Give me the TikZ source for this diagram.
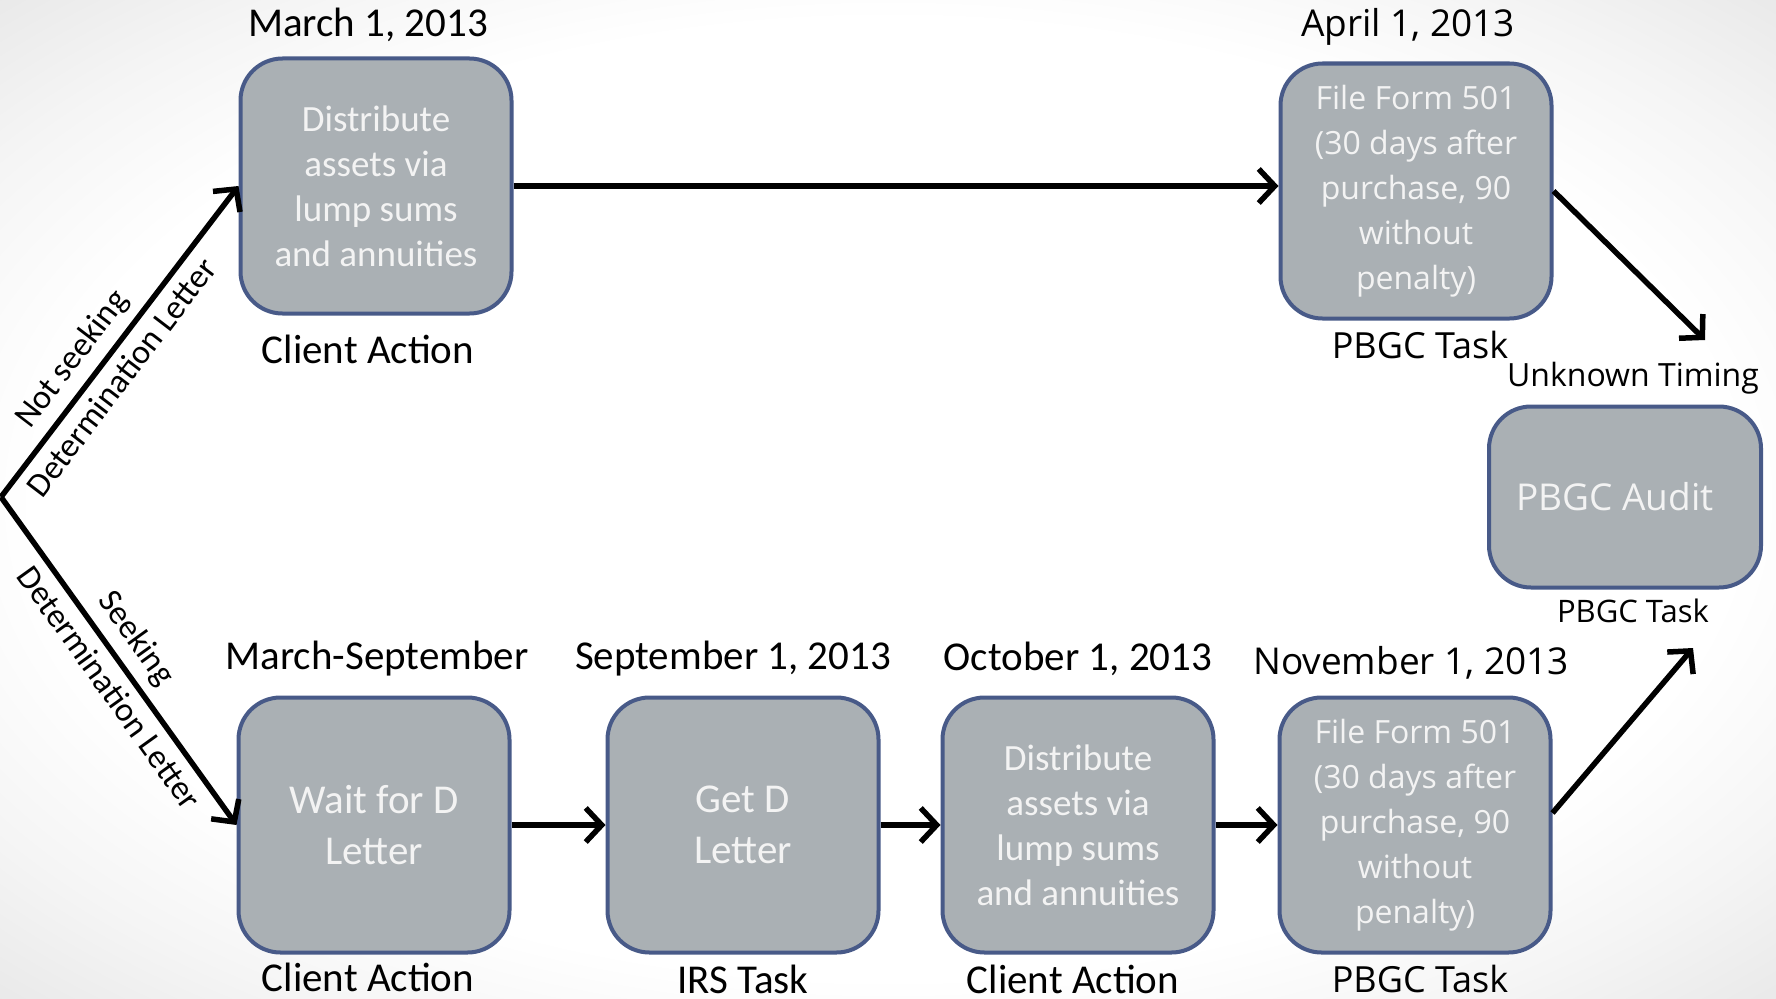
\documentclass[tikz,border=0pt]{standalone}
\usepackage{fontspec}
\setmainfont{Carlito}
\newfontfamily\osans{Open Sans}
\usetikzlibrary{arrows.meta}
\definecolor{boxfill}{HTML}{AAB0B4}
\definecolor{boxline}{HTML}{485A88}
\definecolor{boxtext}{HTML}{F3F3F3}
\pgfdeclareradialshading{bgshade}{\pgfpoint{0bp}{0bp}}{color(0bp)=(white); color(24bp)=(white); color(30bp)=(black!4); color(36bp)=(black!9); color(50bp)=(black!9)}
\begin{document}
\begin{tikzpicture}[x=1pt,y=-1pt,
  stage/.style={draw=boxline, fill=boxfill, line width=4pt, rounded corners=42pt,
    minimum width=271pt, minimum height=255pt, align=center, text=boxtext, inner sep=0pt},
  cal/.style={font=\fontsize{41}{49}\selectfont, inner sep=0pt},
  ops/.style={font=\osans\fontsize{37}{44}\selectfont, inner sep=0pt},
  lbl/.style={font=\fontsize{34}{40}\selectfont, inner sep=0pt},
  flow/.style={line width=5.5pt, -{Straight Barb[length=16pt,width=34pt,line width=5.5pt]}},
]
\useasboundingbox (0,0) rectangle (1776,998);
\shade[shading=bgshade] (0,0) rectangle (1776,998);

% boxes
\node[stage, font=\fontsize{37}{45}\selectfont] (d1) at (376,186)
  {Distribute\\assets via\\lump sums\\and annuities};
\node[stage, font=\osans\fontsize{32}{45}\selectfont] (f1) at (1416,191)
  {File Form 501\\(30 days after\\purchase, 90\\without\\penalty)};
\node[stage, minimum width=272pt, minimum height=181pt] (au) at (1625,497) {};
\node[ops, text=boxtext] (aut) at (1615,497) {PBGC Audit};
\node[stage, font=\fontsize{41}{51}\selectfont] (w) at (374,825) {Wait for D\\Letter};
\node[stage, font=\fontsize{41}{51}\selectfont] (g) at (743,825) {Get D\\Letter};
\node[stage, font=\fontsize{37}{45}\selectfont] (d2) at (1078,825)
  {Distribute\\assets via\\lump sums\\and annuities};
\node[stage, font=\osans\fontsize{32}{45}\selectfont] (f2) at (1415,825)
  {File Form 501\\(30 days after\\purchase, 90\\without\\penalty)};

% labels
\node[cal] (t1) at (368,25) {March 1, 2013};
\node[cal] (c1) at (368,349) {Client Action};
\node[ops] (t2) at (1408,27) {April 1, 2013};
\node[ops, font=\osans\fontsize{36}{44}\selectfont] (p1) at (1420,345) {PBGC Task};
\node[ops, font=\osans\fontsize{32}{40}\selectfont] (ut) at (1633,378) {Unknown Timing};
\node[ops, font=\osans\fontsize{31}{40}\selectfont] (p2) at (1633,611) {PBGC Task};
\node[cal] (t3) at (377,659) {March-September};
\node[cal] (t4) at (733,659) {September 1, 2013};
\node[cal] (t5) at (1078,659) {October 1, 2013};
\node[ops] (t6) at (1411,663) {November 1, 2013};
\node[cal] (c2) at (368,977) {Client Action};
\node[cal] (c3) at (743,979) {IRS Task};
\node[cal] (c4) at (1073,979) {Client Action};
\node[ops, font=\osans\fontsize{36}{44}\selectfont] (p3) at (1420,979) {PBGC Task};

% connectors
\coordinate (s) at (1,497);
\coordinate (a1) at (1705,340);
\coordinate (a2) at (1693,648);
\draw[flow] (s) -- node[lbl, sloped, above=9pt, pos=0.39] (ns) {Not seeking}
  node[lbl, sloped, below=8pt, pos=0.43] (dl1) {Determination Letter} (d1.west);
\draw[flow] (s) -- node[lbl, sloped, above=9pt, pos=0.48] (sk) {Seeking}
  node[lbl, sloped, below=8pt, pos=0.54] (dl2) {Determination Letter} (w.west);
\draw[flow] (d1.east) -- (f1.west |- d1.east);
\draw[flow] (f1.east) -- (a1);
\draw[flow] (w.east) -- (g.west);
\draw[flow] (g.east) -- (d2.west);
\draw[flow] (d2.east) -- (f2.west);
\draw[flow] ([yshift=12pt]f2.east) -- (a2);
\end{tikzpicture}
\end{document}
